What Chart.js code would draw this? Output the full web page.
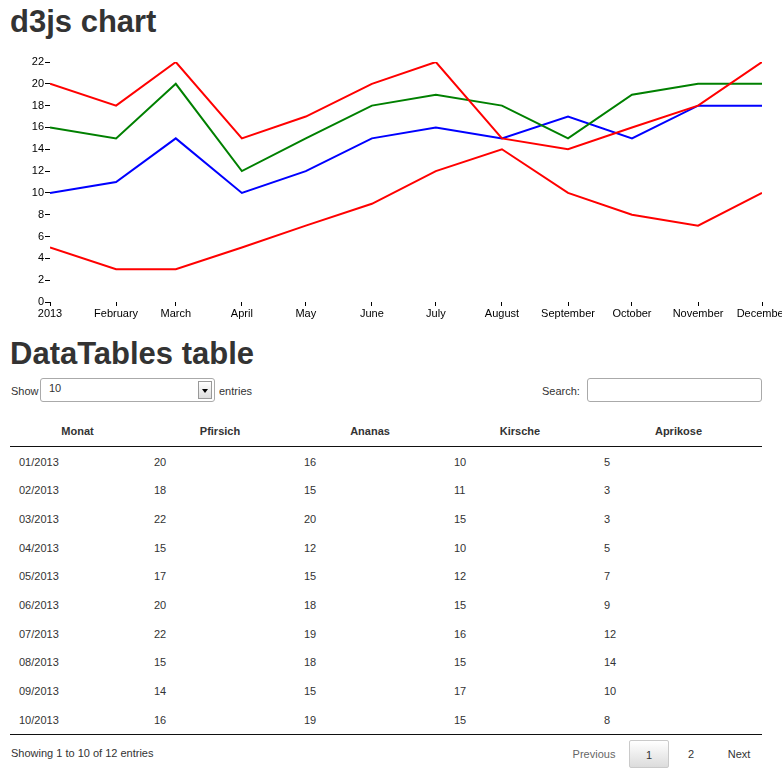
<!DOCTYPE html>
<html>
<head>
<meta charset="utf-8">
<title>d3js chart</title>
<script src="https://cdn.jsdelivr.net/npm/chart.js@4.4.0/dist/chart.umd.min.js"></script>
<style>
  body { margin: 0; width: 782px; height: 776px; overflow: hidden; position: relative; background: #fff;
         font-family: "Liberation Sans", Arial, Helvetica, sans-serif; color: #333; }
  h1 { position: absolute; left: 10px; margin: 0; font-size: 31px; line-height: 36px; font-weight: bold; color: #333; }
  #chartBox { position: absolute; left: 0; top: 41px; width: 782px; height: 290px; }
  .txt { position: absolute; font-size: 11px; line-height: 24px; }
  .box { position: absolute; top: 378px; height: 24px; box-sizing: border-box; border: 1px solid #aaa; border-radius: 3px; background: #fff; }
  #sel { left: 40px; width: 175px; font-size: 11px; line-height: 14px; padding: 2px 0 0 8px; }
  #sel .arr { position: absolute; right: 2px; top: 2px; width: 14px; height: 18px; box-sizing: border-box;
              border: 1px solid #999; background: linear-gradient(#fff, #ddd); }
  #sel .arr:after { content: ""; position: absolute; left: 3px; top: 7px; border-left: 3px solid transparent;
                    border-right: 3px solid transparent; border-top: 4px solid #000; }
  #search { left: 587px; width: 175px; }
  table { position: absolute; left: 10px; top: 415px; width: 752px; border-collapse: collapse; table-layout: fixed; font-size: 11px; }
  th { height: 31px; padding: 0; font-weight: bold; text-align: center; border-bottom: 1px solid #111; }
  td { height: 27.67px; padding: 1px 0 0 9px; text-align: left; }
  tbody tr:last-child td { border-bottom: 1px solid #111; }
  .pg { position: absolute; top: 740px; height: 28px; line-height: 28px; font-size: 11px; text-align: center; }
  #cur { left: 629px; width: 40px; box-sizing: border-box; border: 1px solid #cacaca; border-radius: 2px;
         background: linear-gradient(#fff, #dcdcdc); }
</style>
</head>
<body>
<h1 style="top:4px">d3js chart</h1>
<div id="chartBox"><canvas id="LineChart"></canvas></div>

<h1 style="top:336px">DataTables table</h1>
<div class="txt" style="left:11px; top:379px">Show</div>
<div class="box" id="sel">10<div class="arr"></div></div>
<div class="txt" style="left:219px; top:379px">entries</div>
<div class="txt" style="left:542px; top:379px">Search:</div>
<div class="box" id="search"></div>

<table id="dataTable">
  <colgroup><col style="width:135px"><col style="width:150px"><col style="width:150px"><col style="width:150px"><col style="width:167px"></colgroup>
  <thead><tr id="headRow"></tr></thead>
  <tbody id="bodyRows"></tbody>
</table>

<div class="txt" style="left:11px; top:741px">Showing 1 to 10 of 12 entries</div>
<div class="pg" style="left:568px; width:52px; color:#666">Previous</div>
<div class="pg" id="cur">1</div>
<div class="pg" style="left:681px; width:20px">2</div>
<div class="pg" style="left:722px; width:34px">Next</div>

<script>
var months = ['2013-01-01', '2013-02-01', '2013-03-01', '2013-04-01', '2013-05-01', '2013-06-01',
              '2013-07-01', '2013-08-01', '2013-09-01', '2013-10-01', '2013-11-01', '2013-12-01'];
var monthLabels = ['2013', 'February', 'March', 'April', 'May', 'June',
                   'July', 'August', 'September', 'October', 'November', 'December'];
var tableMonths = ['01/2013', '02/2013', '03/2013', '04/2013', '05/2013', '06/2013',
                   '07/2013', '08/2013', '09/2013', '10/2013', '11/2013', '12/2013'];
var columns = ['Monat', 'Pfirsich', 'Ananas', 'Kirsche', 'Aprikose'];

var pfirsich = [20, 18, 22, 15, 17, 20, 22, 15, 14, 16, 18, 22];
var ananas   = [16, 15, 20, 12, 15, 18, 19, 18, 15, 19, 20, 20];
var kirsche  = [10, 11, 15, 10, 12, 15, 16, 15, 17, 15, 18, 18];
var aprikose = [5, 3, 3, 5, 7, 9, 12, 14, 10, 8, 7, 10];

var yTicks = [0, 2, 4, 6, 8, 10, 12, 14, 16, 18, 20, 22];

// days since the first month, so the x axis is spaced like a time axis
function dayOf(d) {
    return (Date.parse(d) - Date.parse(months[0])) / 86400000;
}

function points(values) {
    return values.map(function (v, i) { return { x: dayOf(months[i]), y: v }; });
}

function line(label, values, color) {
    return {
        label: label,
        data: points(values),
        borderColor: color,
        backgroundColor: color,
        borderWidth: 2,
        pointRadius: 0,
        tension: 0,
        fill: false,
    };
}

Chart.defaults.font.family = '"Liberation Sans", Arial, sans-serif';
Chart.defaults.font.size = 11;
Chart.defaults.color = '#000';

var config = {
    type: 'line',
    data: {
        datasets: [
            line('Pfirsich', pfirsich, '#ff0000'),
            line('Ananas', ananas, '#008000'),
            line('Kirsche', kirsche, '#0000ff'),
            line('Aprikose', aprikose, '#ff0000'),
        ]
    },
    options: {
        responsive: true,
        maintainAspectRatio: false,
        animation: false,
        layout: { padding: { top: 21, right: 20, bottom: 0, left: 0 } },
        plugins: { legend: { display: false }, tooltip: { enabled: false } },
        scales: {
            x: {
                type: 'linear',
                min: dayOf(months[0]),
                max: dayOf(months[months.length - 1]),
                border: { display: false },
                grid: { drawOnChartArea: false, tickLength: 4, color: '#000', lineWidth: 1 },
                ticks: {
                    autoSkip: false, maxRotation: 0, minRotation: 0, padding: 1,
                    callback: function (value, index) { return monthLabels[index]; }
                },
                afterBuildTicks: function (scale) {
                    scale.ticks = months.map(function (m) { return { value: dayOf(m) }; });
                },
                afterFit: function (scale) {
                    scale.paddingLeft = 0;
                    scale.paddingRight = 0;
                    scale.height = 29;
                }
            },
            y: {
                min: 0,
                max: 22,
                border: { display: false },
                grid: { drawOnChartArea: false, tickLength: 5, color: '#000', lineWidth: 1 },
                ticks: { padding: 1 },
                afterBuildTicks: function (scale) {
                    scale.ticks = yTicks.map(function (v) { return { value: v }; });
                },
                afterFit: function (scale) {
                    scale.width = 50;
                }
            }
        }
    }
};

var lineChart = new Chart(document.getElementById('LineChart'), config);

// table: header and first page of rows
var head = document.getElementById('headRow');
columns.forEach(function (c) {
    var th = document.createElement('th');
    th.textContent = c;
    head.appendChild(th);
});

var body = document.getElementById('bodyRows');
for (var i = 0; i < 10; i++) {
    var tr = document.createElement('tr');
    [tableMonths[i], pfirsich[i], ananas[i], kirsche[i], aprikose[i]].forEach(function (v) {
        var td = document.createElement('td');
        td.textContent = v;
        tr.appendChild(td);
    });
    body.appendChild(tr);
}
</script>
</body>
</html>
